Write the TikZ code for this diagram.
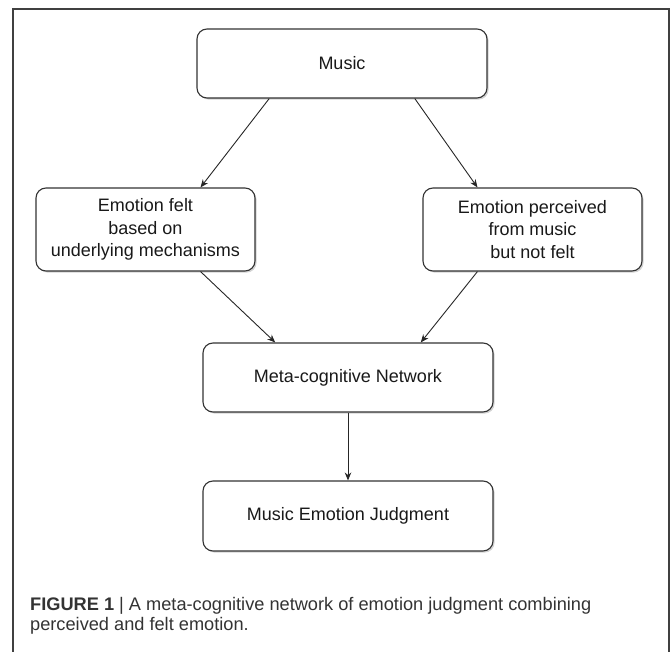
\documentclass[tikz,border=0pt]{standalone}
\usepackage{fontspec}
\setmainfont{Liberation Sans}
\usetikzlibrary{shadows,arrows.meta,calc}
\begin{document}
\begin{tikzpicture}[x=1pt,y=-1pt,
  box/.style={draw=black!80, line width=1.1pt, rounded corners=10pt, fill=white,
    align=center, inner sep=0pt, text=black!90,
    font=\fontsize{18}{22.5}\selectfont,
    drop shadow={shadow xshift=1.6pt, shadow yshift=-1.6pt, fill=black!35, opacity=0.5}},
  arr/.style={draw=black!85, line width=0.9pt, -{Stealth[length=8pt,width=6.5pt]}},
  frameline/.style={draw=black!75, line width=1.3pt},
  captext/.style={anchor=base west, inner sep=0pt, text=black!80, font=\fontsize{18.2}{21}\selectfont}]
\useasboundingbox (0,0) rectangle (672,652);
\draw[frameline] (13,652) -- (13,9) -- (669,9) -- (669,652);

\node[box, minimum width=290pt, minimum height=69pt] (music) at (342,63.5) {Music};
\node[box, minimum width=219pt, minimum height=83pt] (felt) at (145.5,229.5) {Emotion felt\\based on\\underlying mechanisms};
\node[box, minimum width=219pt, minimum height=83pt] (perc) at (532.5,229.5) {Emotion perceived\\from music\\but not felt};
\node[box, minimum width=290pt, minimum height=69pt] (meta) at (348,377.5) {Meta-cognitive Network};
\node[box, minimum width=290pt, minimum height=70pt] (judg) at (348,516) {Music Emotion Judgment};

\draw[arr] ($(music.south west)!0.25!(music.south east)$) -- ($(felt.north west)!0.75!(felt.north east)$);
\draw[arr] ($(music.south west)!0.75!(music.south east)$) -- ($(perc.north west)!0.25!(perc.north east)$);
\draw[arr] ($(felt.south west)!0.75!(felt.south east)$) -- ($(meta.north west)!0.25!(meta.north east)$);
\draw[arr] ($(perc.south west)!0.25!(perc.south east)$) -- ($(meta.north west)!0.75!(meta.north east)$);
\draw[arr] (meta.south) -- (judg.north);

\node[captext] (cap1) at (30,610) {\textbf{FIGURE 1} | A meta-cognitive network of emotion judgment combining};
\node[captext] (cap2) at (30,630) {perceived and felt emotion.};
\end{tikzpicture}
\end{document}
